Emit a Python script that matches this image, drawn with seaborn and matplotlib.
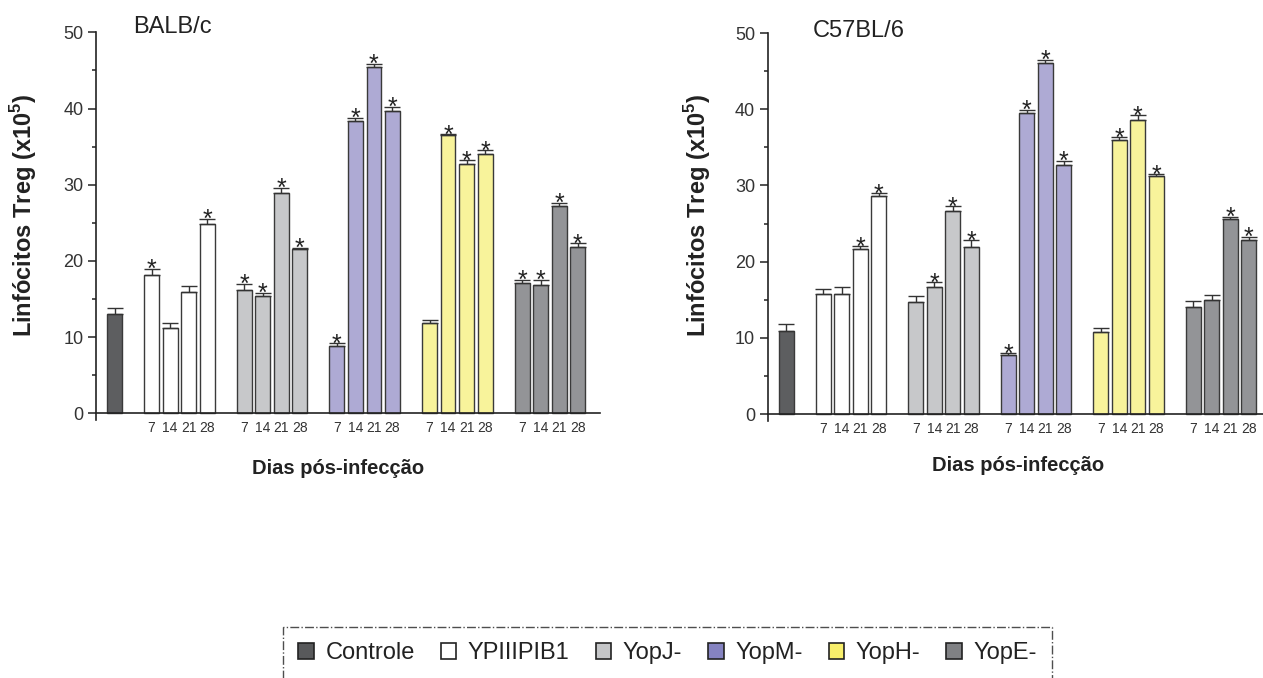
import numpy as np
import pandas as pd
import matplotlib
matplotlib.use("Agg")
import matplotlib.pyplot as plt
from matplotlib.patches import Patch
from matplotlib.ticker import MultipleLocator
import seaborn as sns

# ---------------- data ----------------
groups = ["Controle", "YPIIIPIB1", "YopJ-", "YopM-", "YopH-", "YopE-"]
days = ["7", "14", "21", "28"]

# order: Controle, then each infected group at days 7, 14, 21, 28
balb_values = [13.1,
               18.2, 11.2, 15.9, 24.8,
               16.2, 15.4, 28.9, 21.5,
               8.9, 38.4, 45.5, 39.7,
               11.8, 36.5, 32.7, 34.0,
               17.1, 16.9, 27.2, 21.8]
balb_errors = [0.66,
               0.8, 0.6, 0.8, 0.75,
               0.8, 0.45, 0.7, 0.2,
               0.3, 0.4, 0.4, 0.55,
               0.5, 0.15, 0.5, 0.5,
               0.4, 0.6, 0.4, 0.5]
balb_sig = [0,
            1, 0, 0, 1,
            1, 1, 1, 1,
            1, 1, 1, 1,
            0, 1, 1, 1,
            1, 1, 1, 1]

c57_values = [10.9,
              15.7, 15.8, 21.6, 28.65,
              14.7, 16.7, 26.7, 21.9,
              7.75, 39.5, 46.0, 32.7,
              10.8, 35.9, 38.6, 31.2,
              14.1, 14.9, 25.6, 22.9]
c57_errors = [0.88,
              0.7, 0.88, 0.4, 0.3,
              0.8, 0.57, 0.57, 0.88,
              0.22, 0.4, 0.52, 0.52,
              0.44, 0.44, 0.6, 0.26,
              0.7, 0.66, 0.3, 0.35]
c57_sig = [0,
           0, 0, 1, 1,
           0, 1, 1, 1,
           1, 1, 1, 1,
           0, 1, 1, 1,
           0, 0, 1, 1]

# ---------------- style ----------------
sns.set_style("ticks")
plt.rcParams["font.family"] = ["Liberation Sans", "DejaVu Sans"]
plt.rcParams["mathtext.fontset"] = "custom"
plt.rcParams["mathtext.rm"] = "Liberation Sans"
plt.rcParams["mathtext.bf"] = "Liberation Sans:bold"

bar_colors = {"Controle": "#5d5e60", "YPIIIPIB1": "#ffffff", "YopJ-": "#c7c8ca",
              "YopM-": "#aeaad4", "YopH-": "#f8f39b", "YopE-": "#939497"}
legend_colors = ["#58595b", "#ffffff", "#c5c6c8", "#8583c1", "#f8ef6b", "#808184"]
TXT = "#222222"

# bar slots: Controle at 0, then groups of 4 separated by one empty slot
positions = [0] + [2 + 5 * g + d for g in range(5) for d in range(4)]
bar_groups = ["Controle"] + [g for g in groups[1:] for _ in days]
tick_pos = positions[1:]
tick_lab = days * 5

W, H = 1263, 678
fig = plt.figure(figsize=(W / 100, H / 100), dpi=100)


def px_axes(x0, x1, ytop, ybot):
    return fig.add_axes([x0 / W, 1 - ybot / H, (x1 - x0) / W, (ybot - ytop) / H])


def draw(ax, values, errors, sig, xmax, title, title_pos, xlabel_pos, ylabel_pos):
    df = pd.DataFrame({"pos": positions, "val": values, "grupo": bar_groups})
    sns.barplot(data=df, x="pos", y="val", hue="grupo", hue_order=groups,
                palette=bar_colors, saturation=1, native_scale=True, dodge=False,
                width=0.8, errorbar=None, edgecolor="#3a3a3a", linewidth=1.0,
                legend=False, ax=ax)
    n = len(values)
    ax.errorbar(df["pos"], df["val"], yerr=[np.zeros(n), errors], fmt="none",
                ecolor="#333333", elinewidth=1.0, capsize=5.5, capthick=1.0, zorder=3)
    for p, v, e, s in zip(df["pos"], values, errors, sig):
        if s:
            ax.annotate("*", (p, v + e), xytext=(0, -6), textcoords="offset points",
                        ha="center", va="baseline", fontsize=18, color=TXT)

    ax.set_xlim(-1.0, xmax)
    ax.set_ylim(-0.9, 50)
    ax.spines["bottom"].set_position(("data", 0))
    ax.spines[["top", "right"]].set_visible(False)
    for s in ("left", "bottom"):
        ax.spines[s].set_color(TXT)
        ax.spines[s].set_linewidth(1.2)
    ax.set_yticks(range(0, 51, 10))
    ax.yaxis.set_minor_locator(MultipleLocator(5))
    ax.set_xticks(tick_pos)
    ax.set_xticklabels(tick_lab)
    ax.tick_params(axis="x", length=0, pad=5.5, labelsize=10, labelcolor="#333333")
    ax.tick_params(axis="y", which="major", direction="out", length=5.5, width=1.1,
                   labelsize=13, pad=3.5, color=TXT, labelcolor="#333333")
    ax.tick_params(axis="y", which="minor", direction="out", length=3, width=1.1, color=TXT)
    ax.set_xlabel("")
    ax.set_ylabel("")
    ax.text(title_pos[0], title_pos[1], title, transform=ax.transAxes, ha="left",
            va="baseline", fontsize=17, color=TXT)
    ax.text(xlabel_pos[0], xlabel_pos[1], "Dias pós-infecção", transform=ax.transAxes,
            ha="center", va="center", fontsize=14.5, fontweight="bold", color=TXT)
    ax.text(ylabel_pos[0], ylabel_pos[1], r"Linfócitos Treg (x10$^{\mathbf{5}}$)",
            transform=ax.transAxes, rotation=90, ha="center", va="center",
            fontsize=17, fontweight="bold", color=TXT)


ax1 = px_axes(96, 600, 32.3, 420.2)
draw(ax1, balb_values, balb_errors, balb_sig, 26.2, "BALB/c",
     (0.0734, 0.997), (0.48, -0.125), (-0.143, 0.529))

ax2 = px_axes(767.7, 1263, 33, 420.9)
draw(ax2, c57_values, c57_errors, c57_sig, 25.77, "C57BL/6",
     (0.0915, 0.990), (0.505, -0.114), (-0.141, 0.529))

handles = [Patch(facecolor=c, edgecolor="#222222", linewidth=1.2) for c in legend_colors]
leg = fig.legend(handles, groups, ncol=6, loc="upper left",
                 bbox_to_anchor=(283 / W, 1 - 627 / H), frameon=True, fancybox=False,
                 fontsize=17, handlelength=0.65, handleheight=0.65, handletextpad=0.5,
                 columnspacing=1.1, borderpad=0.65, borderaxespad=0.0)
frame = leg.get_frame()
frame.set_linestyle("-.")
frame.set_edgecolor("#222222")
frame.set_linewidth(1.0)
for t in leg.get_texts():
    t.set_color(TXT)

fig.savefig("out.png", dpi=100)
